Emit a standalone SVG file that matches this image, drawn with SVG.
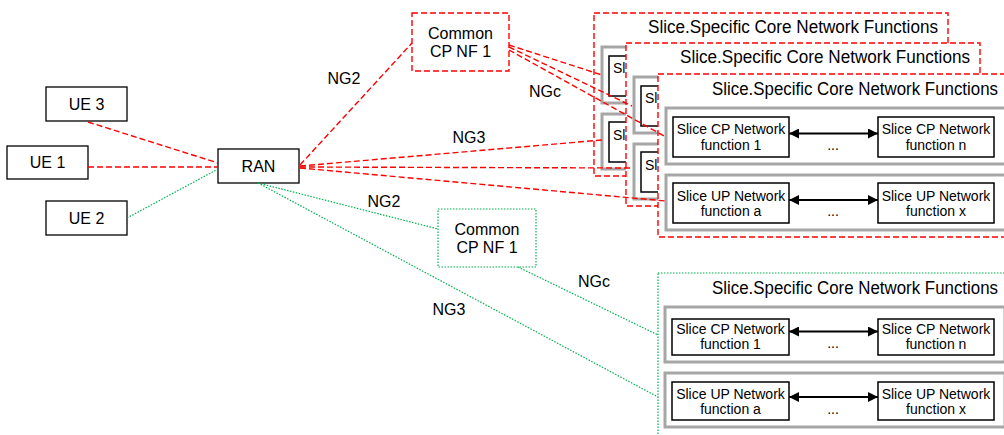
<svg xmlns="http://www.w3.org/2000/svg" width="1004" height="435" viewBox="0 0 1004 435">
<style>
text{font-family:"Liberation Sans",Arial,sans-serif;fill:#000}
.t16{font-size:16px;text-anchor:middle}
.title{font-size:18px;text-anchor:start}
.t14{font-size:14px;text-anchor:middle}
.s14{font-size:14px;text-anchor:start}
.box{fill:#fff;stroke:#000;stroke-width:1.3}
.ibox{fill:#fff;stroke:#000;stroke-width:1.5}
.gray{fill:#fff;stroke:#a6a6a6;stroke-width:3}
.rdash{fill:#fff;stroke:#ff0000;stroke-width:1.4;stroke-dasharray:6 3}
.gdot{fill:#fff;stroke:#00b050;stroke-width:1.2;stroke-dasharray:1.5 1.5}
.rl{fill:none;stroke:#ff0000;stroke-width:1.4;stroke-dasharray:6 3}
.gl{fill:none;stroke:#00b050;stroke-width:1.2;stroke-dasharray:1.5 1.5}
.arr{stroke:#000;stroke-width:2;marker-start:url(#ah);marker-end:url(#ah)}
</style>
<defs>
<marker id="ah" markerUnits="userSpaceOnUse" markerWidth="11" markerHeight="10" refX="10" refY="5" orient="auto-start-reverse">
<path d="M0,0 L10,5 L0,10 Z" fill="#000"/>
</marker>
</defs>
<rect width="1004" height="435" fill="#fff"/>

<g id="ue3"><rect class="box" x="46" y="87" width="81" height="34"/><text class="t16" x="86.5" y="110">UE 3</text></g>
<g id="ue1"><rect class="box" x="7" y="146" width="81" height="33"/><text class="t16" x="47.5" y="168">UE 1</text></g>
<g id="ue2"><rect class="box" x="46" y="201" width="81" height="34"/><text class="t16" x="86.5" y="224">UE 2</text></g>
<g id="ran"><rect class="box" x="218" y="149" width="81" height="34"/><text class="t16" x="258.5" y="172">RAN</text></g>

<g id="common-red"><rect class="rdash" x="412" y="13" width="97" height="58"/><text class="t16" x="460.5" y="39">Common</text><text class="t16" x="460.5" y="57">CP NF 1</text></g>
<g id="common-green"><rect class="gdot" x="438" y="209" width="98" height="58"/><text class="t16" x="487" y="235">Common</text><text class="t16" x="487" y="253">CP NF 1</text></g>

<g id="slice1">
<rect class="rdash" x="594" y="13" width="354" height="163"/>
<text class="title" x="648" y="33" textLength="290" lengthAdjust="spacingAndGlyphs">Slice.Specific Core Network Functions</text>
<rect class="gray" x="602" y="47" width="340" height="56"/>
<rect class="gray" x="602" y="114" width="340" height="55"/>
<rect class="ibox" x="609" y="56" width="116" height="40"/>
<text class="s14" x="613" y="73">Slice</text>
<rect class="ibox" x="609" y="122" width="116" height="40"/>
<text class="s14" x="613" y="140">Slice</text>
</g>

<g id="slice2">
<rect class="rdash" x="626" y="43" width="354" height="163"/>
<text class="title" x="680" y="63" textLength="290" lengthAdjust="spacingAndGlyphs">Slice.Specific Core Network Functions</text>
<rect class="gray" x="634" y="77" width="340" height="56"/>
<rect class="gray" x="634" y="144" width="340" height="55"/>
<rect class="ibox" x="641" y="86" width="116" height="40"/>
<text class="s14" x="645" y="103">Slice</text>
<rect class="ibox" x="641" y="152" width="116" height="40"/>
<text class="s14" x="645" y="170">Slice</text>
</g>

<g id="slice3">
<rect class="rdash" x="658" y="74" width="354" height="163"/>
<text class="title" x="712" y="95" textLength="286" lengthAdjust="spacingAndGlyphs">Slice.Specific Core Network Functions</text>
<rect class="gray" x="666" y="108" width="340" height="56"/>
<rect class="gray" x="666" y="175" width="340" height="55"/>
<rect class="ibox" x="673" y="117" width="116" height="40"/>
<text class="t14" x="731" y="134">Slice CP Network</text><text class="t14" x="731" y="150">function 1</text>
<rect class="ibox" x="878" y="117" width="116" height="40"/>
<text class="t14" x="936" y="134">Slice CP Network</text><text class="t14" x="936" y="150">function n</text>
<line class="arr" x1="789" y1="133.5" x2="878" y2="133.5"/>
<text class="t14" x="833" y="150">...</text>
<rect class="ibox" x="673" y="183" width="116" height="40"/>
<text class="t14" x="731" y="201">Slice UP Network</text><text class="t14" x="731" y="216">function a</text>
<rect class="ibox" x="878" y="183" width="116" height="40"/>
<text class="t14" x="936" y="201">Slice UP Network</text><text class="t14" x="936" y="216">function x</text>
<line class="arr" x1="789" y1="200" x2="878" y2="200"/>
<text class="t14" x="833" y="216">...</text>
</g>

<g id="slice-green">
<rect class="gdot" x="658" y="273" width="354" height="175"/>
<text class="title" x="712" y="294" textLength="286" lengthAdjust="spacingAndGlyphs">Slice.Specific Core Network Functions</text>
<rect class="gray" x="665" y="307" width="340" height="55"/>
<rect class="gray" x="665" y="373" width="340" height="54"/>
<rect class="ibox" x="672" y="319" width="117" height="36"/>
<text class="t14" x="730.5" y="334">Slice CP Network</text><text class="t14" x="730.5" y="349">function 1</text>
<rect class="ibox" x="878" y="319" width="116" height="36"/>
<text class="t14" x="936" y="334">Slice CP Network</text><text class="t14" x="936" y="349">function n</text>
<line class="arr" x1="789" y1="331.5" x2="878" y2="331.5"/>
<text class="t14" x="833" y="348">...</text>
<rect class="ibox" x="672" y="382" width="117" height="38"/>
<text class="t14" x="730.5" y="399">Slice UP Network</text><text class="t14" x="730.5" y="414">function a</text>
<rect class="ibox" x="878" y="382" width="116" height="38"/>
<text class="t14" x="936" y="399">Slice UP Network</text><text class="t14" x="936" y="414">function x</text>
<line class="arr" x1="789" y1="397" x2="878" y2="397"/>
<text class="t14" x="833" y="414">...</text>
</g>

<g id="connectors">
<line class="rl" x1="88" y1="122" x2="218" y2="163"/>
<line class="rl" x1="88" y1="167" x2="218" y2="167"/>
<line class="gl" x1="127" y1="218" x2="218" y2="169"/>
<line class="rl" x1="300" y1="165" x2="412" y2="43"/>
<line class="rl" x1="300" y1="166" x2="602" y2="140"/>
<line class="rl" x1="300" y1="167" x2="632" y2="168"/>
<line class="rl" x1="300" y1="168" x2="666" y2="201"/>
<line class="rl" x1="509" y1="45" x2="602" y2="75"/>
<line class="rl" x1="509" y1="47" x2="632" y2="106"/>
<line class="rl" x1="509" y1="50" x2="666" y2="137"/>
<line class="gl" x1="258" y1="183" x2="438" y2="229"/>
<line class="gl" x1="258" y1="183" x2="658" y2="397"/>
<line class="gl" x1="518" y1="267" x2="658" y2="335"/>
</g>

<g id="labels">
<text class="t16" x="344" y="84">NG2</text>
<text class="t16" x="545" y="97">NGc</text>
<text class="t16" x="469" y="143">NG3</text>
<text class="t16" x="384" y="207">NG2</text>
<text class="t16" x="594" y="287">NGc</text>
<text class="t16" x="449" y="315">NG3</text>
</g>
</svg>
